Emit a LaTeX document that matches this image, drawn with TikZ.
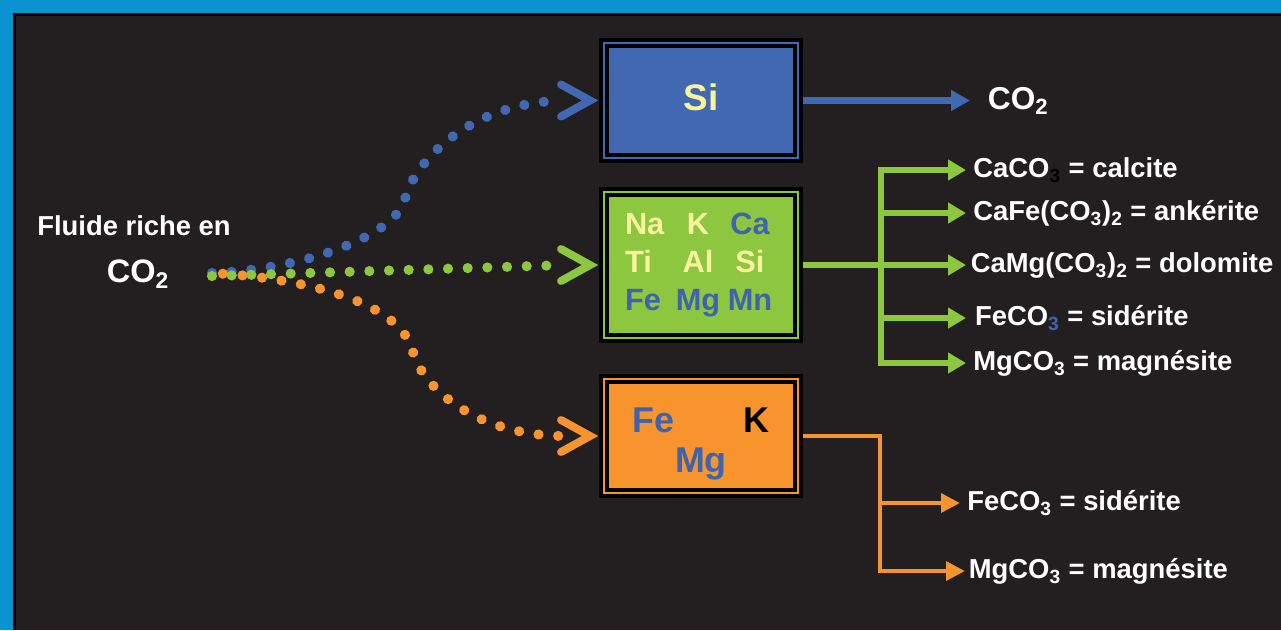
\documentclass[tikz,border=0pt]{standalone}
\usepackage{fontspec}
\setmainfont{Liberation Sans}
\usepackage{xcolor}
\usetikzlibrary{arrows.meta,calc,decorations.markings}

\definecolor{bgblue}{HTML}{0B93D1}
\definecolor{panel}{HTML}{231F20}
\definecolor{siblue}{HTML}{4169B1}
\definecolor{elblue}{HTML}{3F63AD}
\definecolor{mixgreen}{HTML}{8DC63F}
\definecolor{feorange}{HTML}{F7942E}
\definecolor{pale}{HTML}{FAF39C}

\tikzset{
  rockbox/.style={draw=black, double=#1, double distance=0.85pt, line width=2.38pt,
    fill=#1, inner sep=0pt, outer sep=0.1cm, minimum width=3.88cm},
  dotflow/.style 2 args={postaction={decorate, decoration={markings,
    mark=between positions #2 and 1 step 11.2pt with {\fill[#1] (0,0) circle (2.9pt);}}}},
  chev/.style={draw=#1, line width=4.5pt, line cap=round, line join=miter},
  mineral/.style={text=white, anchor=west, inner sep=4pt, text height=11.5pt, text depth=3.1pt,
    font=\bfseries\fontsize{15.6}{18}\selectfont},
  garrow/.style={draw=mixgreen, line width=3.4pt, -{Triangle[length=10.2pt,width=11.3pt]}},
  oarrow/.style={draw=feorange, line width=2.8pt, -{Triangle[length=10.8pt,width=10.5pt]}},
}

\begin{document}
\begin{tikzpicture}[x=0.02cm, y=-0.02cm]
    \useasboundingbox (0,0) rectangle (1281,630);
    % Background and dark panel
    \fill[bgblue] (0,0) rectangle (1281,630);
    \fill[black] (13,13) rectangle (1281,630);
    \fill[panel] (16,16) rectangle (1281,630);

    % Source fluid
    \node[text=white, font=\bfseries\fontsize{15.6}{18}\selectfont] (fluide) at (134,226) {Fluide riche en};
    \node[text=white, text height=13.7pt, text depth=3.7pt, font=\bfseries\fontsize{18.5}{22}\selectfont] (co2in) at (138,274) {CO\textsubscript{2}};
    \coordinate (src) at (212,273);

    % Three boxes
    \node[rockbox=siblue, minimum height=2.3cm, text=pale, text height=15.5pt, text depth=4.2pt,
      font=\bfseries\fontsize{21}{25}\selectfont] (si) at (701,100.5) {Si};
    \node[rockbox=mixgreen, minimum height=2.92cm, text=pale, align=left,
      font=\bfseries\fontsize{17.5}{21.8}\selectfont] (mix) at (701,265)
      {\makebox[0.96cm][l]{Na}\makebox[1cm]{K}\makebox[1.08cm]{\textcolor{elblue}{Ca}}\\
       \makebox[0.96cm][l]{Ti}\makebox[1cm]{Al}\makebox[1.08cm]{Si}\\
       \makebox[0.96cm][l]{\textcolor{elblue}{Fe}}\makebox[1cm]{\textcolor{elblue}{Mg}}\makebox[1.08cm]{\textcolor{elblue}{Mn}}};
    \node[rockbox=feorange, minimum height=2.28cm, text=black, align=center,
      font=\bfseries\fontsize{20.4}{22.7}\selectfont] (fek) at (701,436)
      {\rule{0pt}{0.8cm}\textcolor{elblue}{Fe}\hspace{1.4cm}K\\\textcolor{elblue}{Mg}};

    % Dotted paths from the fluid to the boxes
    \path[dotflow={siblue}{0pt}] (src) .. controls (300,270) and (395,237) .. (405,199)
      .. controls (414,163) and (468,103) .. ([shift={(-36,0)}]si.west);
    \path[dotflow={feorange}{6.2pt}] (src) .. controls (300,278) and (400,300) .. (413,352)
      .. controls (421,383) and (470,434) .. ([shift={(-38,0)}]fek.west);
    \path[dotflow={mixgreen}{0pt}] ([shift={(0,3)}]src) -- ([shift={(-33,0)}]mix.west);
    \draw[chev=siblue] ([shift={(-38,-16)}]si.west) -- ([shift={(-9,0)}]si.west) -- ([shift={(-38,16)}]si.west);
    \draw[chev=mixgreen] ([shift={(-38,-16)}]mix.west) -- ([shift={(-9,0)}]mix.west) -- ([shift={(-38,16)}]mix.west);
    \draw[chev=feorange] ([shift={(-38,-16)}]fek.west) -- ([shift={(-9,0)}]fek.west) -- ([shift={(-38,16)}]fek.west);

    % Si -> CO2
    \node[text=white, anchor=west, inner sep=10pt, text height=13.3pt, text depth=3.6pt,
      font=\bfseries\fontsize{18}{22}\selectfont] (co2out) at (970,100.5) {CO\textsubscript{2}};
    \draw[siblue, line width=4pt, -{Triangle[length=10.8pt,width=11.3pt]}] (si.east) -- (co2out.west);

    % Carbonates from the mixed box
    \node[mineral] (calcite) at (966,170) {CaCO\textsubscript{\textcolor{black}{3}} = calcite};
    \node[mineral] (ankerite) at (966,213) {CaFe(CO\textsubscript{3})\textsubscript{2} = ankérite};
    \node[mineral, inner sep=2.5pt] (dolomite) at (966,265) {CaMg(CO\textsubscript{3})\textsubscript{2} = dolomite};
    \node[mineral, inner sep=5pt] (siderite) at (966,318) {FeCO\textsubscript{\textcolor{elblue}{3}} = sidérite};
    \node[mineral] (magnesite) at (966,363) {MgCO\textsubscript{3} = magnésite};
    \coordinate (gt) at (881,265);
    \draw[garrow] (mix.east) -- (dolomite.west);
    \foreach \m in {calcite,ankerite,siderite,magnesite}
      \draw[garrow] (gt) |- (\m.west);

    % Carbonates from the Fe-Mg box
    \node[mineral] (siderite2) at (960,503) {FeCO\textsubscript{3} = sidérite};
    \node[mineral, inner sep=2pt] (magnesite2) at (965,571) {MgCO\textsubscript{3} = magnésite};
    \coordinate (ot) at (880,436);
    \draw[oarrow] (fek.east) -- (ot) |- (magnesite2.west);
    \draw[oarrow] (ot) |- (siderite2.west);
\end{tikzpicture}
\end{document}
